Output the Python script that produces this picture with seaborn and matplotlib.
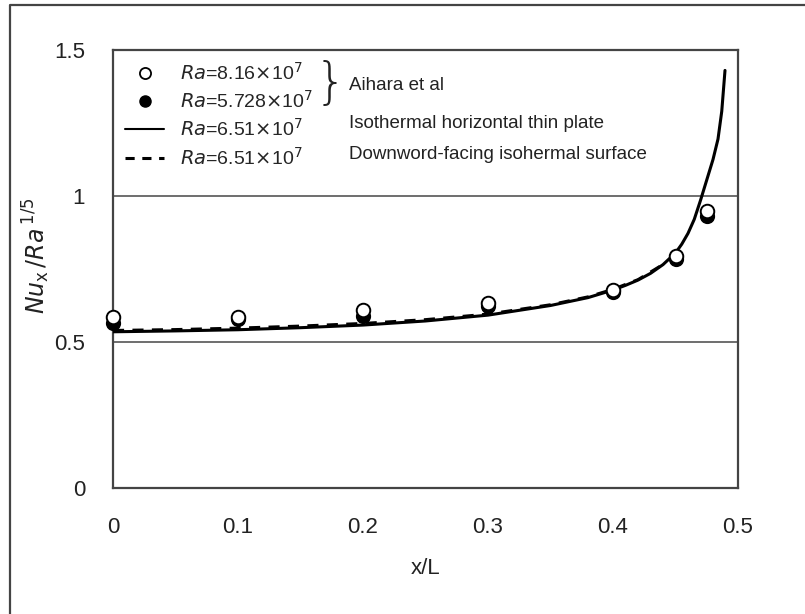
import matplotlib
matplotlib.use("Agg")
import matplotlib.pyplot as plt
from matplotlib.lines import Line2D
from matplotlib.ticker import MultipleLocator
import pandas as pd
import seaborn as sns

# Local Nusselt number along the plate, Aihara et al. measurements
x_exp = [0.0, 0.1, 0.2, 0.3, 0.4, 0.45, 0.475]
nu_ra816 = [0.586, 0.586, 0.610, 0.634, 0.679, 0.793, 0.948]
nu_ra5728 = [0.566, 0.580, 0.590, 0.622, 0.672, 0.783, 0.930]

# Predictions, Ra = 6.51e7: isothermal horizontal thin plate
x_plate = [0.0, 0.05, 0.1, 0.15, 0.2, 0.25, 0.3, 0.35, 0.38, 0.4, 0.41, 0.42,
           0.43, 0.44, 0.45, 0.455, 0.46, 0.465, 0.47, 0.475, 0.48, 0.484,
           0.487, 0.4896]
nu_plate = [0.535, 0.538, 0.542, 0.549, 0.558, 0.572, 0.592, 0.625, 0.652,
            0.678, 0.694, 0.712, 0.735, 0.765, 0.805, 0.835, 0.872, 0.920,
            0.985, 1.055, 1.125, 1.195, 1.290, 1.430]

# Predictions, Ra = 6.51e7: downward-facing isothermal surface
x_down = [0.0, 0.05, 0.1, 0.15, 0.2, 0.25, 0.3, 0.35, 0.38, 0.4, 0.42, 0.44]
nu_down = [0.540, 0.543, 0.548, 0.555, 0.564, 0.577, 0.596, 0.628, 0.655,
           0.681, 0.714, 0.766]

ra_labels = [r"$Ra$=8.16$\times$10$^7$", r"$Ra$=5.728$\times$10$^7$",
             r"$Ra$=6.51$\times$10$^7$", r"$Ra$=6.51$\times$10$^7$"]
group_labels = ["Aihara et al", "Isothermal horizontal thin plate",
                "Downword-facing isohermal surface"]

sns.set_style("white")
plt.rcParams["font.family"] = ["Liberation Sans", "DejaVu Sans"]
plt.rcParams["mathtext.fontset"] = "dejavusans"

W, H = 805, 614
fig = plt.figure(figsize=(W / 100, H / 100), dpi=100)
ax = fig.add_axes([113 / W, 1 - 488 / H, 625 / W, 438 / H])

df_exp = pd.DataFrame({"x": x_exp, "a": nu_ra816, "b": nu_ra5728})
df_plate = pd.DataFrame({"x": x_plate, "nu": nu_plate})
df_down = pd.DataFrame({"x": x_down, "nu": nu_down})

sns.lineplot(data=df_plate, x="x", y="nu", ax=ax, color="black", lw=2.2,
             sort=False, zorder=3)
sns.lineplot(data=df_down, x="x", y="nu", ax=ax, color="black", lw=2.0,
             linestyle=(0, (4, 3)), sort=False, zorder=3)
sns.scatterplot(data=df_exp, x="x", y="b", ax=ax, color="black", s=95,
                edgecolor="black", linewidth=1.2, zorder=4, clip_on=False)
sns.scatterplot(data=df_exp, x="x", y="a", ax=ax, color="white", s=95,
                edgecolor="black", linewidth=1.4, zorder=5, clip_on=False)

ax.set_xlim(0, 0.5)
ax.set_ylim(0, 1.5)
ax.yaxis.set_minor_locator(MultipleLocator(0.1))
ax.set_xticks([0, 0.1, 0.2, 0.3, 0.4, 0.5], ["0", "0.1", "0.2", "0.3", "0.4", "0.5"])
ax.set_yticks([0, 0.5, 1.0, 1.5], ["0", "0.5", "1", "1.5"])
ax.tick_params(axis="both", which="both", direction="in", colors="#333333",
               labelcolor="#222222", labelsize=16, width=1.2)
ax.tick_params(axis="x", which="major", length=7, pad=21)
ax.tick_params(axis="y", which="major", length=0, pad=20)
ax.tick_params(axis="y", which="minor", length=7)
ax.grid(axis="y", which="major", color="#555555", lw=1.2)
ax.grid(axis="x", visible=False)
for s in ax.spines.values():
    s.set_color("#444444")
    s.set_linewidth(1.6)

ax.set_xlabel("x/L", fontsize=16, labelpad=14, color="#222222")
ax.set_ylabel(r"$\it{Nu}_{\mathrm{x}}\,/\it{Ra}^{\,1/5}$", fontsize=17,
              color="#222222")
ax.yaxis.set_label_coords(-0.098, 0.53)

handles = [
    Line2D([], [], marker="o", ls="none", mfc="white", mec="black", ms=8, mew=1.3),
    Line2D([], [], marker="o", ls="none", mfc="black", mec="black", ms=8),
    Line2D([], [], color="black", lw=1.5),
    Line2D([], [], color="black", lw=2.2, ls=(0, (3, 2.5))),
]
leg = ax.legend(handles, ra_labels, loc="upper left", bbox_to_anchor=(0.0, 1.0),
                frameon=False, fontsize=14, handlelength=2.0, handletextpad=0.8,
                labelspacing=0.32, borderaxespad=0.22)

ax.text(0.323, 0.922, "}", transform=ax.transAxes, fontsize=36,
        fontweight="light", va="center", ha="left", color="#222222",
        family="DejaVu Sans")
for label, yy in zip(group_labels, [0.920, 0.833, 0.762]):
    ax.text(0.378, yy, label, transform=ax.transAxes, fontsize=13.5,
            va="center", ha="left", color="#222222")

# Worksheet frame around the chart area
fig.add_artist(Line2D([10 / W, 10 / W, 1.0], [0.0, 1 - 5 / H, 1 - 5 / H],
                      transform=fig.transFigure, color="#444444", lw=1.6))

fig.savefig("out.png", dpi=100, facecolor="white")
